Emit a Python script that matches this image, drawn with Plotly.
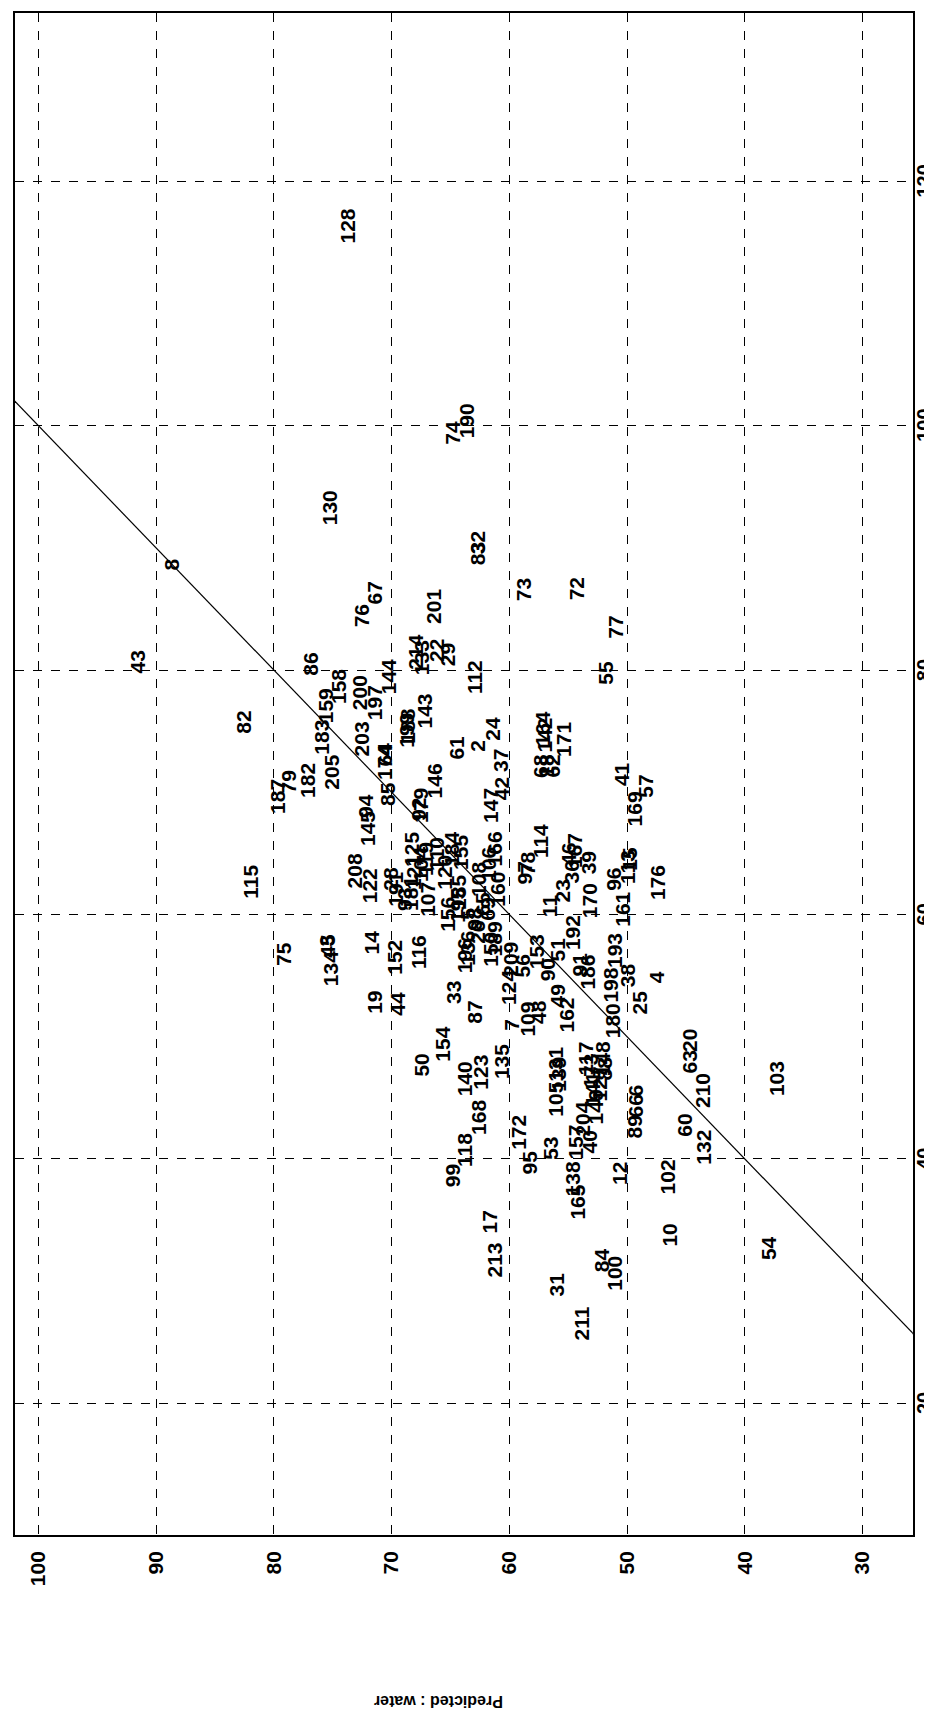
import plotly.graph_objects as go

# ---- data (predicted value, measured value, sample label) ----
labels = ["128","74","190","130","8","83","32","76","67","201","43","82","115","187","73","72","77","55",
          "214","133","22","29","144","86","158","200","197","159","183","203","188","199","143","112","61","2",
          "24","37","42","147","79","182","205","174","64","85","146","179","94","145","125","92","164","142",
          "171","68","18","62","41","57","169","75","134","45","3","14","152","116","19","44","33","208","122",
          "28","196","50","154","140","168","99","118","17","213","31","211","84","100","165","10","54","103",
          "63","20","210","60","132","102","12","89","66","6","172","95","53","138","166","97","78","114","46",
          "167","36","39","23","11","170","96","113","15","176","161","192","193","91","186","198","38","4","25",
          "180","153","56","124","209","189","90","51","49","162","48","109","7","121","104","191","93","181",
          "107","119","120","155","184","110","185","195","98","26","150","106","108","160","5","65","156","69",
          "139","131","105","117","173","141","149","148","88","127","204","40","157","87","123","135","136"]

predicted = [73.71,64.8,63.67,75.26,88.71,62.67,62.67,72.58,71.44,66.49,91.62,82.6,81.96,79.64,58.85,54.33,50.93,51.78,
             67.94,67.4,66.2,65.3,70.31,76.96,74.56,72.72,71.44,75.55,75.98,72.58,68.62,68.8,67.2,62.95,64.52,62.67,
             61.4,60.7,60.7,61.54,78.8,77.1,75.13,70.6,70.65,70.31,66.35,67.49,72.16,72.0,68.36,67.77,57.16,57.0,
             55.46,57.3,56.8,56.31,50.51,48.39,49.37,79.2,75.13,75.4,75.55,71.73,69.75,67.77,71.44,69.47,64.8,73.14,71.87,
             70.17,63.8,67.49,65.65,63.8,62.67,64.8,63.8,61.68,61.26,56.03,53.9,52.2,51.07,54.19,46.4,37.91,37.29,
             44.7,44.7,43.57,45.13,43.57,46.54,50.64,49.37,49.3,49.3,59.28,58.29,56.45,54.61,61.26,58.71,58.5,57.4,55.03,
             54.41,54.75,53.3,55.46,56.59,53.19,51.21,49.94,49.8,47.39,50.36,54.61,51.07,54.04,53.34,51.36,49.94,47.53,48.95,
             51.21,57.73,58.85,60.13,59.87,61.26,56.72,55.87,55.88,55.18,57.58,58.49,59.87,68.1,67.6,69.64,68.87,68.36,
             66.92,67.17,65.48,64.2,64.97,66.24,64.37,64.37,62.93,62.67,61.57,61.83,62.67,60.98,63.52,62.25,65.22,61.83,
             55.88,56.05,56.05,53.5,53.08,52.9,52.66,52.07,51.9,52.32,53.76,53.17,54.35,62.95,62.42,60.7,63.5]

measured = [116.4,99.43,100.38,93.31,88.68,89.56,90.46,84.43,86.34,85.25,80.65,75.72,62.67,69.64,86.62,86.62,83.48,79.8,
            81.5,81.0,81.6,81.3,79.5,80.5,78.7,78.17,77.35,77.07,74.49,74.35,75.44,75.1,76.66,79.4,73.67,73.8,
            75.2,72.58,70.26,68.9,70.81,70.94,71.63,72.44,73.1,69.87,70.94,68.9,68.9,67.0,65.36,68.63,75.2,74.7,
            74.35,72.17,72.17,72.17,71.49,70.53,68.63,56.8,55.54,57.45,57.9,57.73,56.5,56.91,52.82,52.68,53.64,63.58,62.36,
            62.9,56.63,47.64,49.41,46.55,43.42,38.64,40.69,34.83,31.71,29.72,26.53,31.71,30.62,36.47,33.74,32.71,46.57,
            47.92,49.68,45.6,42.74,40.96,38.53,38.8,42.6,44.3,45.6,42.19,39.73,40.82,38.37,65.36,63.4,64.2,66.0,64.95,
            65.2,63.45,64.2,61.95,60.72,61.13,62.9,63.86,64.6,62.63,60.45,58.54,57.04,55.95,55.3,54.18,55.0,54.87,52.82,
            51.32,56.91,55.81,54.05,56.36,58.0,55.5,57.13,53.36,51.73,52.0,51.4,50.95,63.48,64.13,62.09,61.27,61.76,
            61.27,64.54,63.48,65.11,65.36,64.95,61.84,60.78,59.63,58.57,57.18,64.13,62.9,62.09,60.04,60.86,60.04,60.45,
            46.94,47.76,44.9,48.2,47.2,45.73,44.26,48.2,47.37,46.14,43.27,41.39,41.39,52.0,47.12,47.92,57.2]

line_vals = [20, 110]          # 1:1 reference line
pred_ticks = [30, 40, 50, 60, 70, 80, 90, 100]
meas_ticks = [20, 40, 60, 80, 100, 120]
axis_title = "Predicted : water"

FONT = "Arial, Liberation Sans, Helvetica, sans-serif"
BOLD = dict(family=FONT, size=21, color="black", weight="bold")

fig = go.Figure()
fig.add_trace(go.Scatter(x=line_vals, y=line_vals, mode="lines",
                         line=dict(color="black", width=1.2), hoverinfo="skip", showlegend=False))

for lab, p, m in zip(labels, predicted, measured):
    fig.add_annotation(x=p, y=m, xref="x", yref="y", text=lab, textangle=-90,
                       showarrow=False, xanchor="center", yanchor="middle", font=BOLD)

# right-hand tick labels of the measured axis (rotated like the rest of the page)
for t in meas_ticks:
    fig.add_annotation(x=1, y=t, xref="paper", yref="y", text=str(t), textangle=-90,
                       showarrow=False, xanchor="center", yanchor="middle", xshift=11,
                       borderpad=0, font=dict(family=FONT, size=20, color="black", weight="bold"))

fig.add_annotation(x=0.471, y=-0.109, xref="paper", yref="paper", text=axis_title,
                   textangle=180, showarrow=False, xanchor="center", yanchor="middle",
                   font=dict(family=FONT, size=16, color="black", weight="bold"))

grid = dict(showgrid=True, gridcolor="black", gridwidth=1, griddash="dash",
            zeroline=False, showline=True, mirror=True, linecolor="black", linewidth=1.5,
            ticks="", tickangle=-90, tickfont=BOLD)

fig.update_xaxes(range=[102.0, 25.7], tickvals=pred_ticks, ticklabelstandoff=6, **grid)
fig.update_yaxes(range=[9.2, 133.8], tickvals=meas_ticks, side="right", showticklabels=False, **grid)

fig.update_layout(width=932, height=1716, plot_bgcolor="white", paper_bgcolor="white",
                  margin=dict(l=7, r=27, t=3, b=189), showlegend=False)

fig.write_html("out.html")
